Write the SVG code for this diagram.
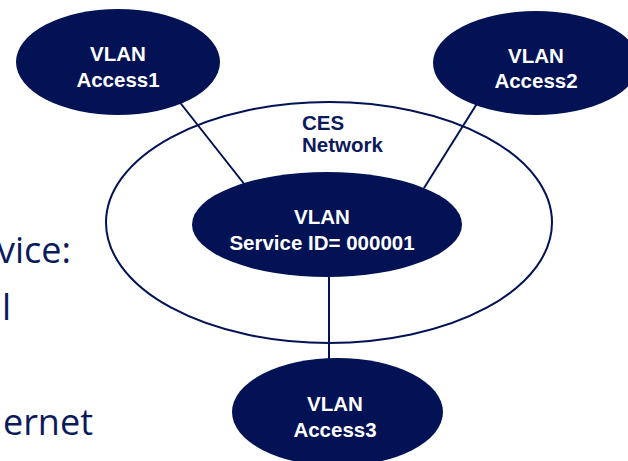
<svg xmlns="http://www.w3.org/2000/svg" width="628" height="461" viewBox="0 0 628 461">
<style>
.node{fill:#021254;}
.lbl{fill:#ffffff;font-family:"Liberation Sans",Arial,sans-serif;font-weight:bold;font-size:20.5px;text-anchor:middle;}
.net{fill:none;stroke:#021254;stroke-width:2;}
.con line{stroke:#021254;stroke-width:2;}
.side{fill:#0c1a5c;font-family:"Open Sans","Noto Sans",sans-serif;font-size:36px;text-anchor:end;}
.ces{fill:#0c1a5c;font-family:"Liberation Sans",Arial,sans-serif;font-weight:bold;font-size:20.5px;}
</style>
<rect width="628" height="461" fill="#ffffff"/>
<g id="side-text">
<text class="side" x="71" y="263">vice:</text>
<text class="side" x="11" y="320">l</text>
<text class="side" x="93" y="435">ernet</text>
</g>
<g id="ces-network">
<ellipse class="net" cx="329" cy="222.5" rx="223" ry="120.5"/>
<text class="ces" x="302" y="130">CES</text>
<text class="ces" x="302" y="152">Network</text>
</g>
<g id="connectors" class="con">
<line x1="178" y1="100" x2="245" y2="185"/>
<line x1="478" y1="102" x2="424" y2="188"/>
<line x1="329" y1="276" x2="329" y2="360"/>
</g>
<g id="access1">
<ellipse class="node" cx="118" cy="62" rx="102" ry="53"/>
<text class="lbl" x="118" y="61">VLAN</text>
<text class="lbl" x="118" y="87">Access1</text>
</g>
<g id="access2">
<ellipse class="node" cx="536" cy="63" rx="103" ry="52"/>
<text class="lbl" x="536" y="63">VLAN</text>
<text class="lbl" x="536" y="88">Access2</text>
</g>
<g id="service">
<ellipse class="node" cx="327" cy="224.5" rx="135" ry="52.5"/>
<text class="lbl" x="322" y="224">VLAN</text>
<text class="lbl" x="322" y="250">Service ID= 000001</text>
</g>
<g id="access3">
<ellipse class="node" cx="337.5" cy="412" rx="105.5" ry="54"/>
<text class="lbl" x="335" y="411">VLAN</text>
<text class="lbl" x="335" y="437">Access3</text>
</g>
</svg>
